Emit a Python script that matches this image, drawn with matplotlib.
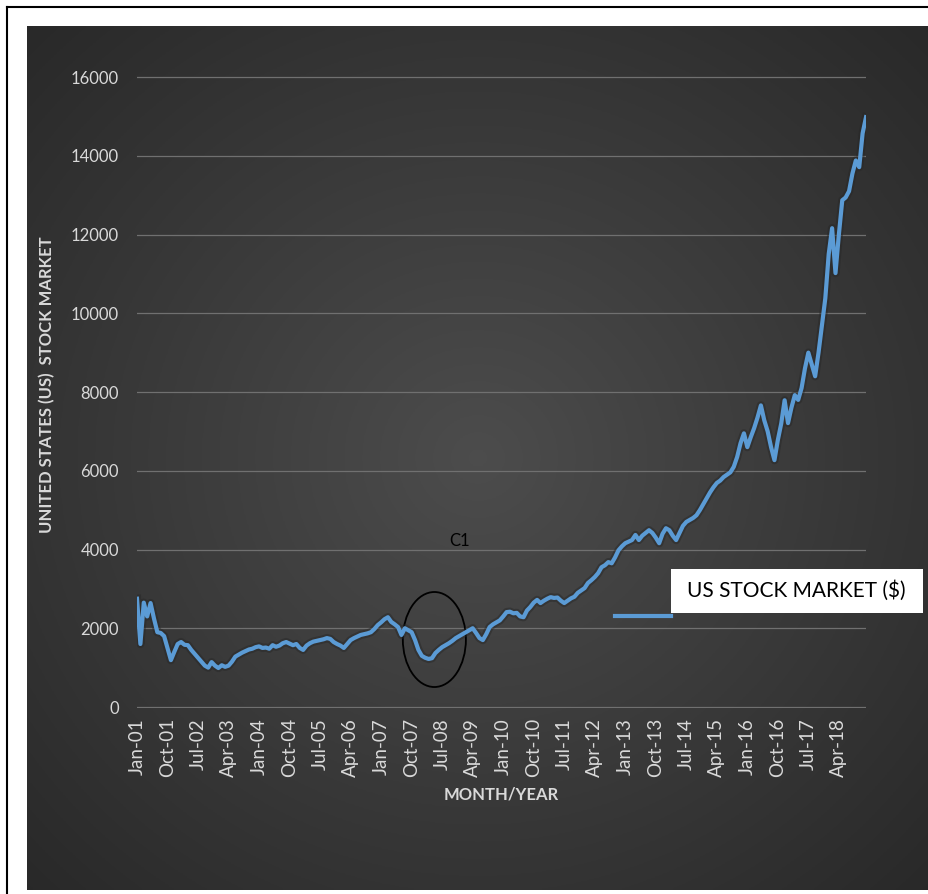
import numpy as np
import matplotlib
matplotlib.use("Agg")
import matplotlib.pyplot as plt
import matplotlib.patheffects as pe
from matplotlib.patches import Ellipse, Rectangle
from matplotlib.lines import Line2D

plt.rcParams['font.family'] = ['Lato', 'DejaVu Sans']

# monthly values, Jan-01 .. Dec-18
v2001 = [2750, 1600, 2650, 2300, 2640, 2250, 1900, 1880, 1800, 1500, 1190, 1400]
v2002 = [1600, 1650, 1580, 1570, 1450, 1350, 1250, 1150, 1050, 1000, 1140, 1050]
v2003 = [990, 1060, 1020, 1050, 1150, 1280, 1330, 1380, 1420, 1460, 1480, 1520]
v2004 = [1540, 1500, 1510, 1480, 1570, 1530, 1560, 1620, 1650, 1610, 1570, 1600]
v2005 = [1500, 1450, 1560, 1620, 1660, 1680, 1700, 1720, 1750, 1730, 1650, 1600]
v2006 = [1560, 1500, 1600, 1700, 1750, 1790, 1830, 1850, 1870, 1900, 1980, 2080]
v2007 = [2150, 2230, 2280, 2160, 2100, 2030, 1830, 2000, 1950, 1900, 1700, 1450]
v2008 = [1300, 1250, 1220, 1240, 1370, 1450, 1520, 1570, 1620, 1680, 1750, 1800]
v2009 = [1850, 1900, 1950, 2000, 1880, 1750, 1700, 1850, 2030, 2100, 2150, 2200]
v2010 = [2300, 2410, 2420, 2380, 2390, 2300, 2280, 2450, 2540, 2650, 2720, 2640]
v2011 = [2700, 2750, 2790, 2770, 2780, 2700, 2640, 2700, 2760, 2800, 2900, 2960]
v2012 = [3020, 3150, 3220, 3300, 3400, 3550, 3600, 3680, 3650, 3800, 3980, 4080]
v2013 = [4160, 4200, 4240, 4370, 4240, 4350, 4420, 4490, 4420, 4300, 4160, 4400]
v2014 = [4540, 4490, 4350, 4240, 4420, 4600, 4700, 4750, 4800, 4870, 5000, 5150]
v2015 = [5300, 5450, 5580, 5690, 5750, 5840, 5900, 5960, 6100, 6350, 6700, 6950]
v2016 = [6600, 6850, 7080, 7350, 7660, 7280, 7000, 6600, 6270, 6780, 7200, 7790]
v2017 = [7210, 7600, 7920, 7800, 8100, 8600, 9000, 8700, 8400, 9000, 9700, 10380]
v2018 = [11500, 12160, 11020, 12000, 12870, 12940, 13100, 13550, 13880, 13710, 14570, 14980]

values = (v2001 + v2002 + v2003 + v2004 + v2005 + v2006 + v2007 + v2008 + v2009
          + v2010 + v2011 + v2012 + v2013 + v2014 + v2015 + v2016 + v2017 + v2018)
months = np.arange(len(values))

tickLabels = ["Jan-01", "Oct-01", "Jul-02", "Apr-03", "Jan-04", "Oct-04", "Jul-05",
              "Apr-06", "Jan-07", "Oct-07", "Jul-08", "Apr-09", "Jan-10", "Oct-10",
              "Jul-11", "Apr-12", "Jan-13", "Oct-13", "Jul-14", "Apr-15", "Jan-16",
              "Oct-16", "Jul-17", "Apr-18"]
yTicks = [0, 2000, 4000, 6000, 8000, 10000, 12000, 14000, 16000]

W, H = 929, 894
fig = plt.figure(figsize=(W / 100, H / 100), dpi=100)
fig.patch.set_facecolor('white')

# dark panel, lighter in the middle
bg = fig.add_axes([27 / W, 4 / H, 902 / W, 864 / H])
yy, xx = np.mgrid[-1:1:300j, -1:1:300j]
r = np.sqrt(xx ** 2 + yy ** 2) / np.sqrt(2)
shade = 0.30 - 0.14 * r
bg.imshow(np.dstack([shade, shade, shade]), aspect='auto', extent=[0, 1, 0, 1])
bg.set_axis_off()

# outer frame line
fig.add_artist(Line2D([7 / W, 1], [1 - 7 / H, 1 - 7 / H], color='black', lw=1.5))
fig.add_artist(Line2D([7 / W, 7 / W], [0, 1 - 7 / H], color='black', lw=1.5))

pad = 30
pxPerUnit = 630 / 16000
ax = fig.add_axes([137 / W, (H - 707 - pad * pxPerUnit) / H,
                   729 / W, (630 + 2 * pad * pxPerUnit) / H])
ax.patch.set_alpha(0)
for s in ax.spines.values():
    s.set_visible(False)

ax.plot(months, values, color='#5b9bd5', lw=3.0, solid_joinstyle='round',
        path_effects=[pe.Stroke(linewidth=6, foreground='#262626', alpha=0.45), pe.Normal()])

ax.set_xlim(0, 215)
ax.set_ylim(-pad, 16000 + pad)
ax.set_yticks(yTicks)
ax.set_yticklabels([str(t) for t in yTicks])
ax.set_xticks(range(0, 9 * len(tickLabels), 9))
ax.set_xticklabels(tickLabels, rotation=90)
ax.yaxis.grid(True, color='#707070', lw=0.9)
ax.set_axisbelow(True)
ax.tick_params(axis='y', length=0, pad=13, colors='#d9d9d9', labelsize=12)
ax.tick_params(axis='x', length=0, pad=7, colors='#d9d9d9', labelsize=13.5)

fig.text(47 / W, 1 - 385 / H, 'UNITED STATES (US)  STOCK MARKET', rotation=90,
         ha='center', va='center', color='#d9d9d9', fontsize=12, fontweight='bold')
fig.text(501 / W, 1 - 795 / H, 'MONTH/YEAR', ha='center', va='center',
         color='#d9d9d9', fontsize=12, fontweight='bold')

# circled region
ax.add_patch(Ellipse((87.7, 1714), 18.6, 2413, fill=False, ec='black', lw=1.3, clip_on=False))
fig.text(460 / W, 1 - 541 / H, 'C1', ha='center', va='center', color='black', fontsize=12)

# legend as drawn in the original
fig.add_artist(Rectangle((671 / W, 1 - 613 / H), 252 / W, 44 / H, facecolor='white',
                         edgecolor='none'))
fig.add_artist(Line2D([615 / W, 671 / W], [1 - 616 / H, 1 - 616 / H], color='#5b9bd5', lw=3))
fig.text(687 / W, 1 - 591 / H, 'US STOCK MARKET ($)', ha='left', va='center',
         color='black', fontsize=15)

fig.savefig('out.png', dpi=100)
